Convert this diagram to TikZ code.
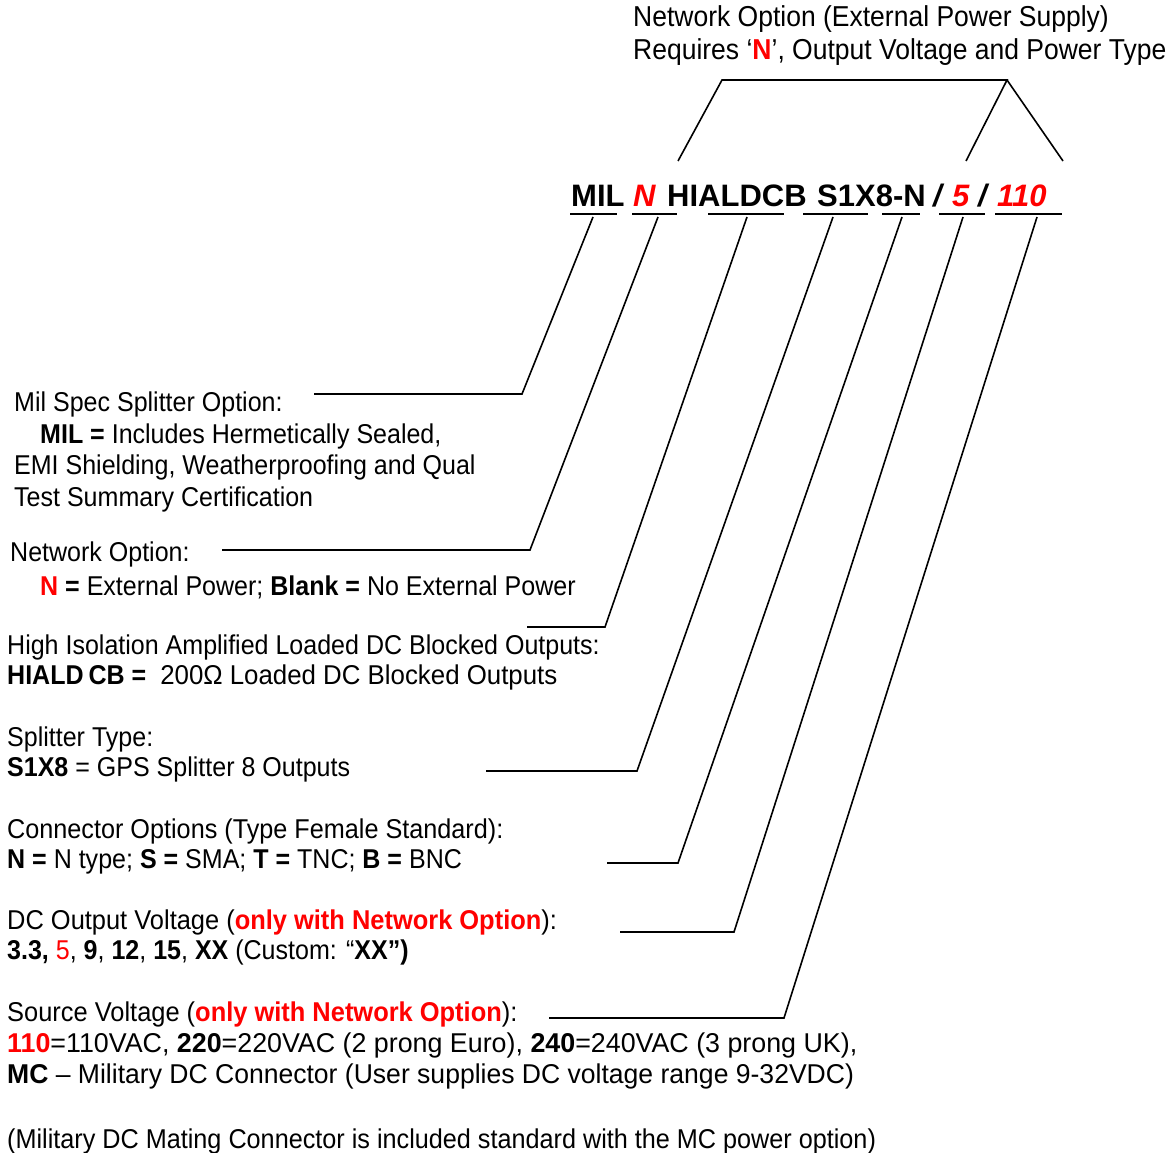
\documentclass[tikz,border=0pt]{standalone}
\usepackage{fontspec}
\setmainfont{Liberation Sans}
\newfontfamily\bodyfont[FakeStretch=0.92]{Liberation Sans}
\newfontfamily\bodyfontc[FakeStretch=0.927]{Liberation Sans}
\newfontfamily\bodyfontb[FakeStretch=0.935]{Liberation Sans}
\newfontfamily\bodyfonth[FakeStretch=0.95]{Liberation Sans}
\newfontfamily\bodyfontm[FakeStretch=0.976]{Liberation Sans}
\newfontfamily\bodyfontw[FakeStretch=0.986]{Liberation Sans}
\definecolor{optred}{RGB}{255,0,0}
\newcommand{\redtxt}[1]{\textcolor{optred}{#1}}
\begin{document}
\begin{tikzpicture}[x=1pt,y=-1pt,
  txtbase/.style={anchor=base west, inner sep=0pt},
  body/.style={txtbase, font=\bodyfont\fontsize{27.2}{31}\selectfont},
  bodyc/.style={txtbase, font=\bodyfontc\fontsize{27.2}{31}\selectfont},
  bodyb/.style={txtbase, font=\bodyfontb\fontsize{27.2}{31}\selectfont},
  bodym/.style={txtbase, font=\bodyfontm\fontsize{27.2}{31}\selectfont},
  bodyw/.style={txtbase, font=\bodyfontw\fontsize{27.2}{31}\selectfont},
  toptxt/.style={txtbase, font=\bodyfont\fontsize{28.8}{33}\selectfont},
  pn/.style={txtbase, font=\fontsize{31}{36}\selectfont\bfseries},
  pnit/.style={txtbase, font=\fontsize{31}{36}\selectfont\bfseries\itshape},
  ln/.style={line width=1.6pt, line join=miter}]
\useasboundingbox (0,0) rectangle (1175,1153);

% top label
\node[toptxt] (t1) at (633,27) {Network Option (External Power Supply)};
\node[toptxt] (t2) at (633,60) {Requires ‘\textbf{\redtxt{N}}’, Output Voltage and Power Type};

% bracket
\coordinate (b1) at (678,161);
\coordinate (b2) at (722,80);
\coordinate (b3) at (1007,80);
\coordinate (b4) at (966,161);
\coordinate (b5) at (1063,161);
\draw[ln] (b1) -- (b2) -- (b3) -- (b4);
\draw[ln] (b3) -- (b5);

% part number
\node[pn] (pMIL) at (571,206) {MIL};
\node[pnit, text=optred] (pN) at (633,206) {N};
\node[pn] (pH) at (667,206) {HIALDCB};
\node[pn] (pS) at (817,206) {S1X8-N};
\node[pnit] (sl1) at (933,206) {/};
\node[pnit, text=optred] (p5) at (952,206) {5};
\node[pnit] (sl2) at (978,206) {/};
\node[pnit, text=optred] (p110) at (997,206) {110};

% underlines
\coordinate (u1a) at (570,214); \coordinate (u1b) at (617,214);
\coordinate (u2a) at (632,214); \coordinate (u2b) at (677,214);
\coordinate (u3a) at (708,214); \coordinate (u3b) at (784,214);
\coordinate (u4a) at (803,214); \coordinate (u4b) at (868,214);
\coordinate (u5a) at (882,214); \coordinate (u5b) at (920,214);
\coordinate (u6a) at (939,214); \coordinate (u6b) at (985,214);
\coordinate (u7a) at (995,214); \coordinate (u7b) at (1062,214);
\foreach \i in {1,...,7} {\draw[ln] (u\i a) -- (u\i b);}

% leader lines
\coordinate (d1a) at (593,217); \coordinate (d1b) at (522,394); \coordinate (d1c) at (314,394);
\coordinate (d2a) at (658,217); \coordinate (d2b) at (530,550); \coordinate (d2c) at (222,550);
\coordinate (d3a) at (747,217); \coordinate (d3b) at (605,627); \coordinate (d3c) at (527,627);
\coordinate (d4a) at (833,217); \coordinate (d4b) at (637,771); \coordinate (d4c) at (486,771);
\coordinate (d5a) at (902,217); \coordinate (d5b) at (678,863); \coordinate (d5c) at (607,863);
\coordinate (d6a) at (963,217); \coordinate (d6b) at (734,932); \coordinate (d6c) at (620,932);
\coordinate (d7a) at (1037,217); \coordinate (d7b) at (784,1018); \coordinate (d7c) at (549,1018);
\foreach \i in {1,...,7} {\draw[ln] (d\i a) -- (d\i b) -- (d\i c);}

% descriptions
\node[body] (m1) at (14,411) {Mil Spec Splitter Option:};
\node[body] (m2) at (40,443) {\textbf{MIL =} Includes Hermetically Sealed,};
\node[body] (m3) at (14,474) {EMI Shielding, Weatherproofing and Qual};
\node[body] (m4) at (14,506) {Test Summary Certification};
\node[body] (n1) at (10,561) {Network Option:};
\node[body] (n2) at (40,595) {\textbf{\redtxt{N} =} External Power; \textbf{Blank =} No External Power};
\node[body] (h1) at (7,654) {High Isolation Amplified Loaded DC Blocked Outputs:};
\node[body] (h2) at (7,684) {\textbf{HIALD\kern5pt CB =}\ \ {\bodyfonth 200Ω Loaded DC Blocked Outputs}};
\node[body] (s1) at (7,746) {Splitter Type:};
\node[body] (s2) at (7,776) {\textbf{S1X8} = GPS Splitter 8 Outputs};
\node[bodyc] (c1) at (7,838) {Connector Options (Type Female Standard):};
\node[body] (c2) at (7,868) {\textbf{N =} N type; \textbf{S =} SMA; \textbf{T =} TNC; \textbf{B =} BNC};
\node[bodyb] (v1) at (7,929) {DC Output Voltage (\textbf{\redtxt{only with Network Option}}):};
\node[body] (v2) at (7,959) {\textbf{3.3,} \redtxt{5}, \textbf{9}, \textbf{12}, \textbf{15}, \textbf{XX} (Custom: “\textbf{XX”)}};
\node[bodyb] (w1) at (7,1021) {Source Voltage (\textbf{\redtxt{only with Network Option}}):};
\node[bodyw] (w2) at (7,1052) {\textbf{\redtxt{110}}=110VAC, \textbf{220}=220VAC (2 prong Euro), \textbf{240}=240VAC (3 prong UK),};
\node[bodym] (w3) at (7,1083) {\textbf{MC} – Military DC Connector (User supplies DC voltage range 9-32VDC)};
\node[bodyc] (w4) at (7,1148) {(Military DC Mating Connector is included standard with the MC power option)};
\end{tikzpicture}
\end{document}
